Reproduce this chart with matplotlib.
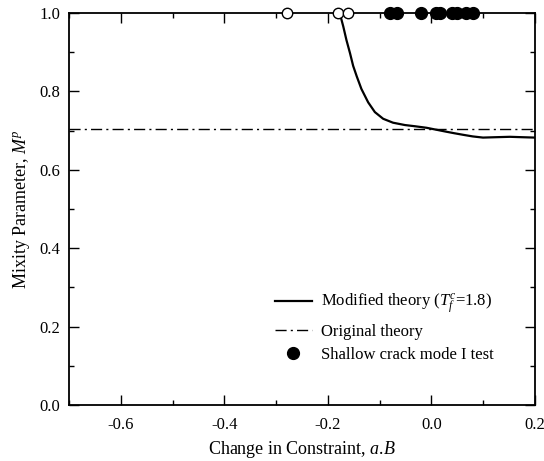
import numpy as np
import matplotlib
matplotlib.use('Agg')
import matplotlib.pyplot as plt
from matplotlib.ticker import MultipleLocator

plt.rcParams['font.family'] = ['Liberation Serif', 'DejaVu Serif']
plt.rcParams['mathtext.fontset'] = 'custom'
plt.rcParams['mathtext.it'] = 'Liberation Serif:italic'
plt.rcParams['mathtext.rm'] = 'Liberation Serif'

# Модифицированная теория
mod_x = [-0.177, -0.170, -0.164, -0.157, -0.151, -0.144, -0.135, -0.122,
         -0.109, -0.093, -0.074, -0.051, -0.032, -0.009, 0.010, 0.029,
         0.045, 0.062, 0.080, 0.100, 0.125, 0.152, 0.175, 0.200]
mod_y = [1.000, 0.965, 0.931, 0.897, 0.865, 0.838, 0.806, 0.772,
         0.747, 0.730, 0.720, 0.714, 0.711, 0.707, 0.702, 0.697,
         0.693, 0.689, 0.685, 0.682, 0.683, 0.684, 0.683, 0.682]

# Исходная теория
orig_y = 0.705

# Испытания (закрашенные и пустые точки)
test_x = [-0.080, -0.067, -0.020, 0.010, 0.017, 0.041, 0.049, 0.068, 0.080]
test_y = [1.0] * len(test_x)
open_x = [-0.278, -0.181, -0.160]
open_y = [1.0] * len(open_x)

fig = plt.figure(figsize=(5.44, 4.61), dpi=100)
ax = fig.add_axes([0.127, 0.1215, 0.856, 0.8505])

ax.plot(mod_x, mod_y, color='black', lw=1.6, label=r'Modified theory ($T^{c}_{f}$=1.8)')
ax.axhline(orig_y, color='black', lw=1.0, ls=(0, (8, 3, 1.5, 3)), label='Original theory')
ax.plot(open_x, open_y, 'o', ms=7.5, mfc='white', mec='black', mew=1.0, clip_on=False, zorder=5)
ax.plot(test_x, test_y, 'o', ms=8.5, color='black', clip_on=False, zorder=6,
        label='Shallow crack mode I test')

ax.set_xlim(-0.7, 0.2)
ax.set_ylim(0.0, 1.0)
ax.xaxis.set_major_locator(MultipleLocator(0.2))
ax.xaxis.set_minor_locator(MultipleLocator(0.1))
ax.yaxis.set_major_locator(MultipleLocator(0.2))
ax.yaxis.set_minor_locator(MultipleLocator(0.1))
ax.set_xticks([-0.6, -0.4, -0.2, 0.0, 0.2])
ax.set_xticklabels(['-0.6', '-0.4', '-0.2', '0.0', '0.2'])
ax.set_yticklabels(['%.1f' % v for v in ax.get_yticks()])
ax.tick_params(which='both', direction='in', top=True, right=True, labelsize=12)
ax.tick_params(which='major', length=7.5, width=1.0)
ax.tick_params(which='minor', length=3.8, width=1.0)
ax.tick_params(axis='x', which='major', pad=9)
ax.tick_params(axis='y', which='major', pad=6.5)
for s in ax.spines.values():
    s.set_linewidth(1.3)

ax.set_xlabel(r'Change in Constraint, $a$.$B$', fontsize=13, labelpad=4)
ax.set_ylabel(r'Mixity Parameter, $M^{p}$', fontsize=13, labelpad=5)

ax.legend(loc='upper left', bbox_to_anchor=(275 / 544, 1 - 292 / 461),
          bbox_transform=fig.transFigure, frameon=False, fontsize=12,
          handlelength=2.2, labelspacing=0.45, handletextpad=0.55,
          borderpad=0, borderaxespad=0)

fig.savefig('out.png', dpi=100)
